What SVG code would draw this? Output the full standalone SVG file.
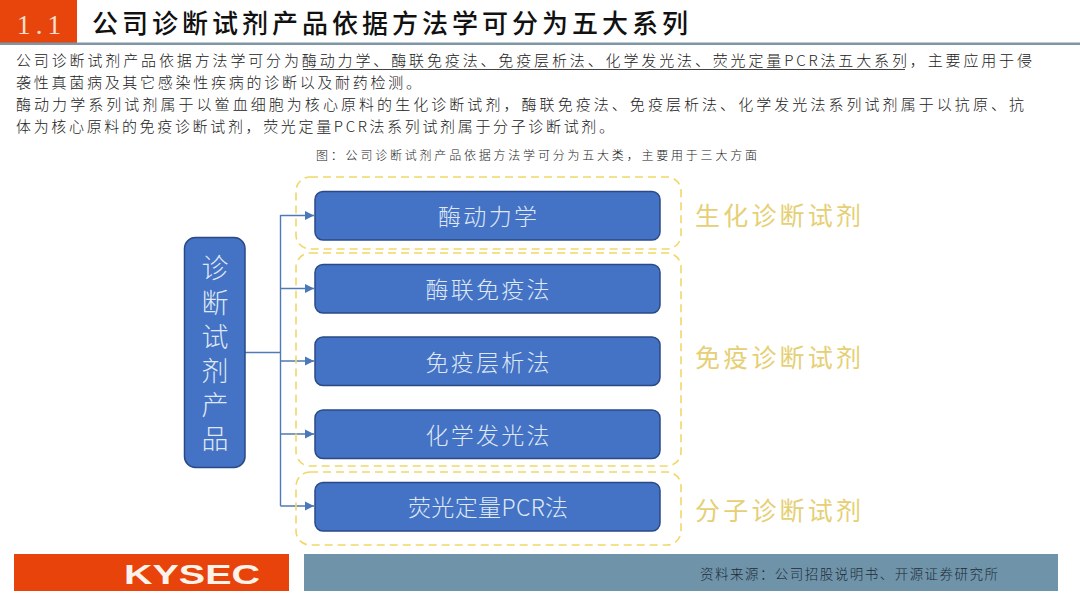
<svg xmlns="http://www.w3.org/2000/svg" width="1080" height="607" viewBox="0 0 1080 607">
<defs>
<marker id="arr" markerUnits="userSpaceOnUse" markerWidth="10" markerHeight="10" refX="9" refY="5" orient="auto"><path d="M0,0.5 L9,5 L0,9.500 Z" fill="#4a78b8"/></marker>
</defs>
<style>
text{font-family:"Noto Sans CJK SC","Noto Sans CJK JP",sans-serif}
.body{font-size:15px;fill:#222;font-weight:300}
.node{fill:#4472c4;stroke:#2a4a85;stroke-width:1.5}
.nt{font-size:23px;fill:#dfe8f6;text-anchor:middle;font-weight:300}
.rt{font-size:27px;fill:#dfe8f6;text-anchor:middle;font-weight:300}
.grp{fill:none;stroke:#f0d866;stroke-width:1.6;stroke-dasharray:8 5}
.gl{font-size:25px;fill:#e6cf74;font-weight:400}
.cn{fill:none;stroke:#4f7ab5;stroke-width:1.4}
</style>
<rect width="1080" height="607" fill="#fff"/>
<g id="header">
<rect x="0" y="0" width="77" height="44" fill="#e8450c"/>
<rect x="0" y="42.500" width="1080" height="2.500" fill="#7f97a5"/>
<text x="17" y="34" style="font-family:'Liberation Serif',serif;font-size:27px;fill:#f6e0d0" textLength="44">1.1</text>
<text x="92" y="33" textLength="596" style="font-size:26px;fill:#111;font-weight:500">公司诊断试剂产品依据方法学可分为五大系列</text>
</g>
<g id="body-text">
<text class="body" x="16" y="66" textLength="1016">公司诊断试剂产品依据方法学可分为酶动力学、酶联免疫法、免疫层析法、化学发光法、荧光定量PCR法五大系列，主要应用于侵</text>
<line x1="303" y1="69.500" x2="905" y2="69.500" stroke="#444" stroke-width="1"/>
<text class="body" x="16" y="88" textLength="405">袭性真菌病及其它感染性疾病的诊断以及耐药检测。</text>
<text class="body" x="16" y="110" textLength="1008">酶动力学系列试剂属于以鲎血细胞为核心原料的生化诊断试剂，酶联免疫法、免疫层析法、化学发光法系列试剂属于以抗原、抗</text>
<text class="body" x="16" y="132" textLength="598">体为核心原料的免疫诊断试剂，荧光定量PCR法系列试剂属于分子诊断试剂。</text>
<text x="316" y="160" textLength="441" style="font-size:12px;fill:#222;font-weight:300">图：公司诊断试剂产品依据方法学可分为五大类，主要用于三大方面</text>
</g>
<g id="connectors">
<path class="cn" d="M245,352.500 H280.500"/>
<path class="cn" d="M280.500,215 V506"/>
<path class="cn" marker-end="url(#arr)" d="M280.500,215.500 H314"/>
<path class="cn" marker-end="url(#arr)" d="M280.500,288.500 H314"/>
<path class="cn" marker-end="url(#arr)" d="M280.500,361 H314"/>
<path class="cn" marker-end="url(#arr)" d="M280.500,434 H314"/>
<path class="cn" marker-end="url(#arr)" d="M280.500,506 H314"/>
</g>
<g id="group-biochem">
<rect class="grp" x="296" y="177" width="385" height="72" rx="14"/>
<text class="gl" x="695" y="225" textLength="166">生化诊断试剂</text>
</g>
<g id="group-immune">
<rect class="grp" x="296" y="253" width="385" height="213" rx="14"/>
<text class="gl" x="695" y="367" textLength="166">免疫诊断试剂</text>
</g>
<g id="group-molecular">
<rect class="grp" x="296" y="472" width="385" height="73" rx="14"/>
<text class="gl" x="695" y="520" textLength="166">分子诊断试剂</text>
</g>
<g id="root">
<rect class="node" x="184.500" y="237.500" width="60.500" height="230" rx="11"/>
<text class="rt"><tspan x="215" y="278">诊</tspan><tspan x="215" y="313">断</tspan><tspan x="215" y="347">试</tspan><tspan x="215" y="381">剂</tspan><tspan x="215" y="415">产</tspan><tspan x="215" y="449">品</tspan></text>
</g>
<g id="n1"><rect class="node" x="315" y="191.500" width="345" height="48.500" rx="8"/><text class="nt" x="487.500" y="225" textLength="99">酶动力学</text></g>
<g id="n2"><rect class="node" x="315" y="264.500" width="345" height="48.500" rx="8"/><text class="nt" x="487.500" y="298" textLength="124">酶联免疫法</text></g>
<g id="n3"><rect class="node" x="315" y="337" width="345" height="48.500" rx="8"/><text class="nt" x="487.500" y="370.500" textLength="124">免疫层析法</text></g>
<g id="n4"><rect class="node" x="315" y="410" width="345" height="48.500" rx="8"/><text class="nt" x="487.500" y="443.500" textLength="124">化学发光法</text></g>
<g id="n5"><rect class="node" x="315" y="482.500" width="345" height="48.500" rx="8"/><text class="nt" x="488" y="516" textLength="160">荧光定量PCR法</text></g>
<g id="footer">
<rect x="14" y="554" width="275" height="37" fill="#e8430a"/>
<text x="124" y="584" textLength="136" lengthAdjust="spacingAndGlyphs" style="font-family:'Liberation Sans',sans-serif;font-weight:700;font-size:27px;fill:#fdf3ea">KYSEC</text>
<rect x="304" y="554" width="754" height="37" fill="#6f93a8"/>
<text x="700" y="579" textLength="298" style="font-size:13.500px;fill:#1d2b38;font-weight:300">资料来源：公司招股说明书、开源证券研究所</text>
</g>
</svg>
